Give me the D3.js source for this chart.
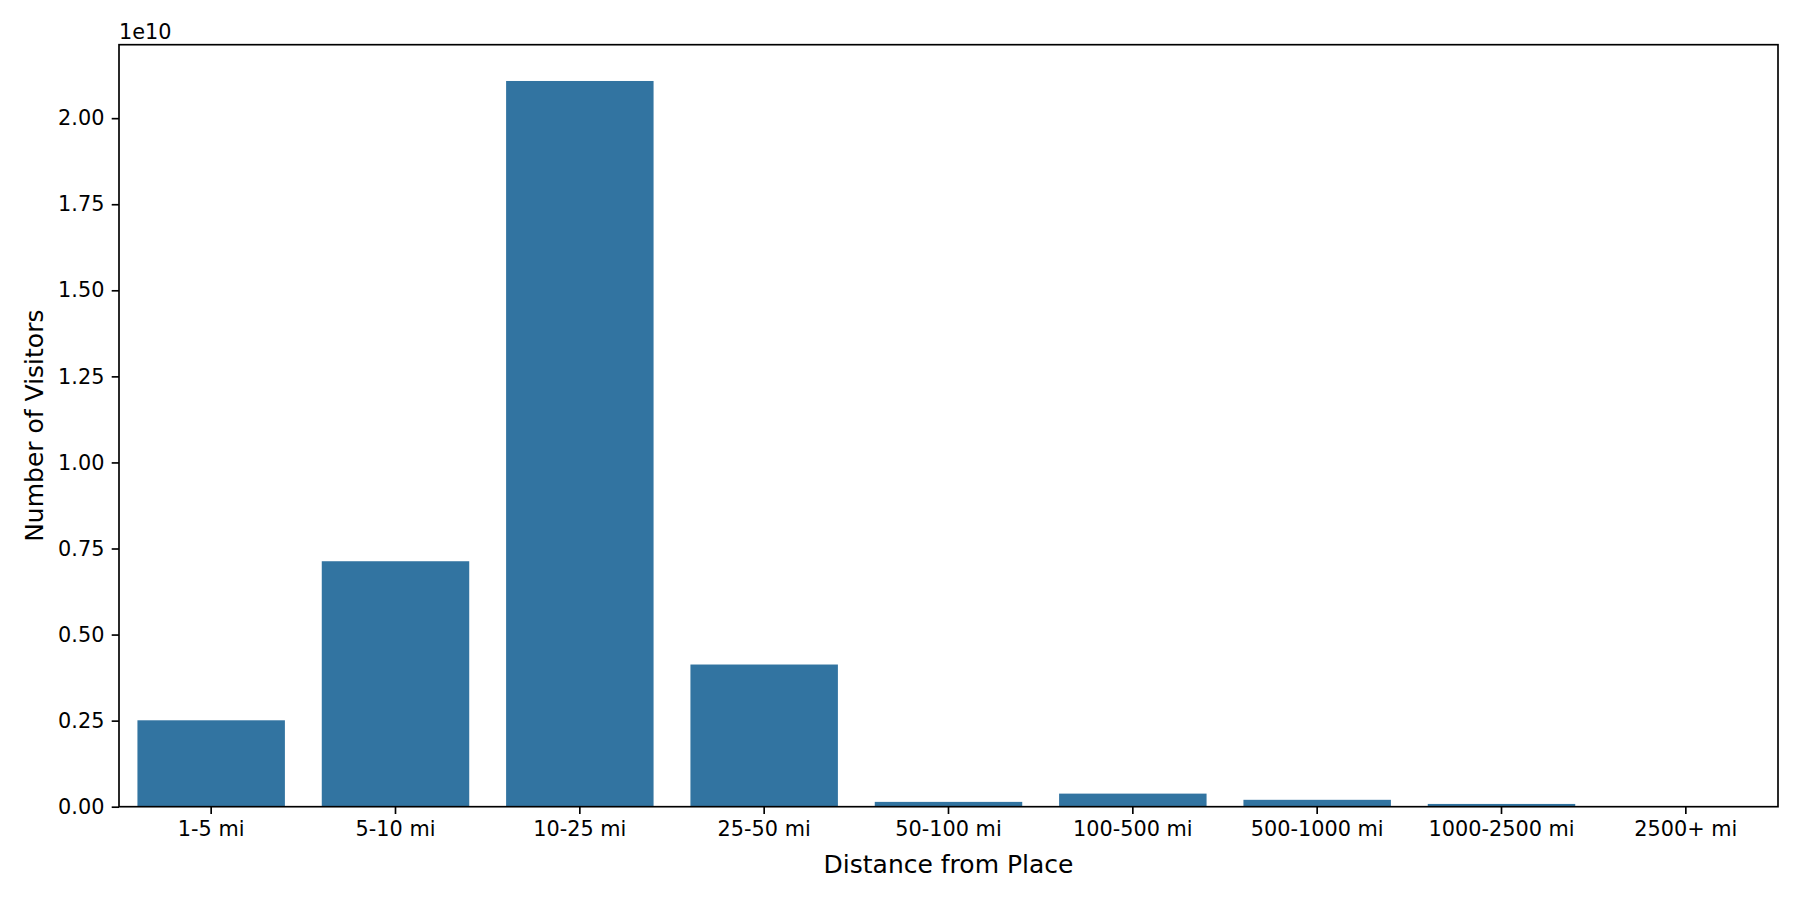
<!DOCTYPE html>
<html>
<head>
<meta charset="utf-8">
<script src="https://cdn.jsdelivr.net/npm/d3@7"></script>
<style>
  body { margin: 0; background: #fff; }
  text { font-family: "DejaVu Sans", sans-serif; }
</style>
</head>
<body>
<div id="chart"></div>
<script>
var categories = ['1-5 mi', '5-10 mi', '10-25 mi', '25-50 mi', '50-100 mi', '100-500 mi', '500-1000 mi', '1000-2500 mi', '2500+ mi'];
var visitors = [2.51e9, 7.13e9, 2.108e10, 4.13e9, 1.4e8, 3.8e8, 2.0e8, 8e7, 1e7];
var yTicks = [0, 0.25e10, 0.5e10, 0.75e10, 1.0e10, 1.25e10, 1.5e10, 1.75e10, 2.0e10];

var margin = {top: 44.7, right: 22, bottom: 93.3, left: 119},
    width = 1800 - margin.left - margin.right,
    height = 900 - margin.top - margin.bottom;

var svg = d3.select("#chart")
  .append("svg")
    .attr("width", 1800)
    .attr("height", 900)
  .append("g")
    .attr("transform", "translate(" + margin.left + "," + margin.top + ")");

var x = d3.scaleBand()
  .domain(categories)
  .range([0, width])
  .paddingInner(0.2)
  .paddingOuter(0.1);

var y = d3.scaleLinear()
  .domain([0, d3.max(visitors) * 1.05])
  .range([height, 0]);

svg.selectAll(".bar")
  .data(categories)
  .enter().append("rect")
    .attr("class", "bar")
    .attr("x", function(d) { return x(d); })
    .attr("width", x.bandwidth())
    .attr("y", function(d, i) { return y(visitors[i]); })
    .attr("height", function(d, i) { return height - y(visitors[i]); })
    .attr("fill", "#3274a1");

var xAxis = svg.append("g")
  .attr("transform", "translate(0," + height + ")")
  .call(d3.axisBottom(x).tickSize(7.3).tickPadding(7.3));

var yAxis = svg.append("g")
  .call(d3.axisLeft(y).tickValues(yTicks).tickSize(7.3).tickPadding(7.3)
    .tickFormat(function(d) { return d3.format(".2f")(d / 1e10); }));

[xAxis, yAxis].forEach(function(a) {
  a.select(".domain").remove();
  a.selectAll("line").attr("stroke", "#000").attr("stroke-width", 1.67);
  a.selectAll("text").attr("fill", "#000").style("font-size", "20.8px")
    .style("font-family", "'DejaVu Sans', sans-serif");
});

// frame
svg.append("rect")
  .attr("width", width)
  .attr("height", height)
  .attr("fill", "none")
  .attr("stroke", "#000")
  .attr("stroke-width", 1.67);

// offset text
svg.append("text")
  .attr("x", 0)
  .attr("y", -6)
  .style("font-size", "20.8px")
  .text("1e10");

svg.append("text")
  .attr("transform", "rotate(-90)")
  .attr("x", -height / 2)
  .attr("y", -margin.left + 43)
  .style("text-anchor", "middle")
  .style("font-size", "25px")
  .text("Number of Visitors");

svg.append("text")
  .attr("x", width / 2)
  .attr("y", height + 66)
  .style("text-anchor", "middle")
  .style("font-size", "25px")
  .text("Distance from Place");
</script>
</body>
</html>
